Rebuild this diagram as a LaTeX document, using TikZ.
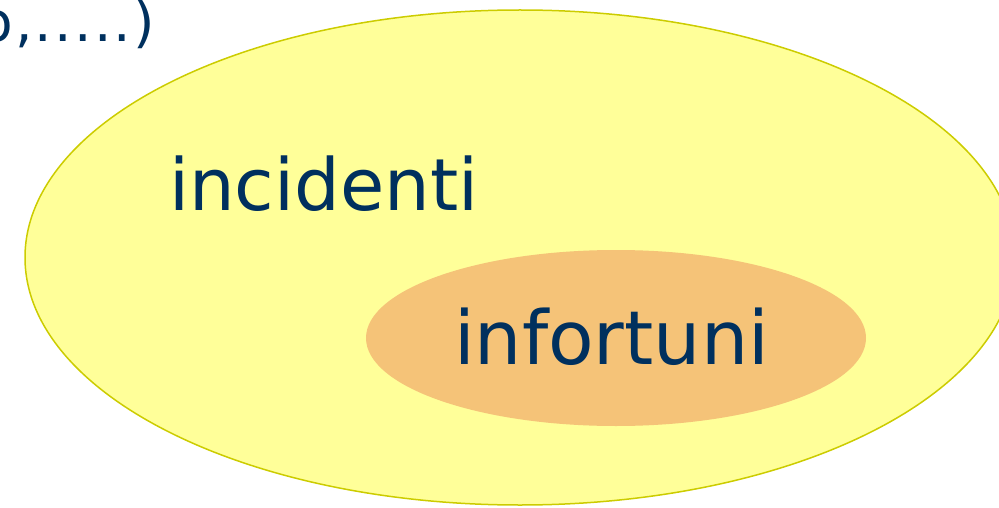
\documentclass[tikz,border=0pt]{standalone}
\usepackage{fontspec}
\setmainfont{DejaVu Sans}
\usetikzlibrary{shapes.geometric}
\definecolor{txtblue}{HTML}{00305E}
\definecolor{bigfill}{HTML}{FFFF99}
\definecolor{bigedge}{HTML}{CCCC00}
\definecolor{smallfill}{HTML}{F5C378}
\tikzset{
  setshape/.style={ellipse, inner sep=0pt},
  label/.style={text=txtblue, font=\fontsize{73}{80}\selectfont, inner sep=0pt}
}
\begin{document}
\begin{tikzpicture}[x=1pt,y=-1pt]
\useasboundingbox (0,0) rectangle (999,508);
\clip (0,0) rectangle (999,508);
\node[setshape, fill=bigfill, draw=bigedge, line width=1.5pt,
      minimum width=990pt, minimum height=495pt] (incid) at (520,257.5) {};
\node[setshape, fill=smallfill, minimum width=500pt, minimum height=176pt]
      (infort) at (616,338) {};
\node[label, font=\fontsize{72}{80}\selectfont, anchor=base west] (lincid) at (169,211) {incidenti};
\node[label, font=\fontsize{74.5}{80}\selectfont, anchor=base west] (linfort) at (454,364) {infortuni};
\node[label, font=\fontsize{55}{60}\selectfont\addfontfeature{LetterSpace=4}, anchor=base east] (ltop) at (155,42) {o,.....)};
\end{tikzpicture}
\end{document}
